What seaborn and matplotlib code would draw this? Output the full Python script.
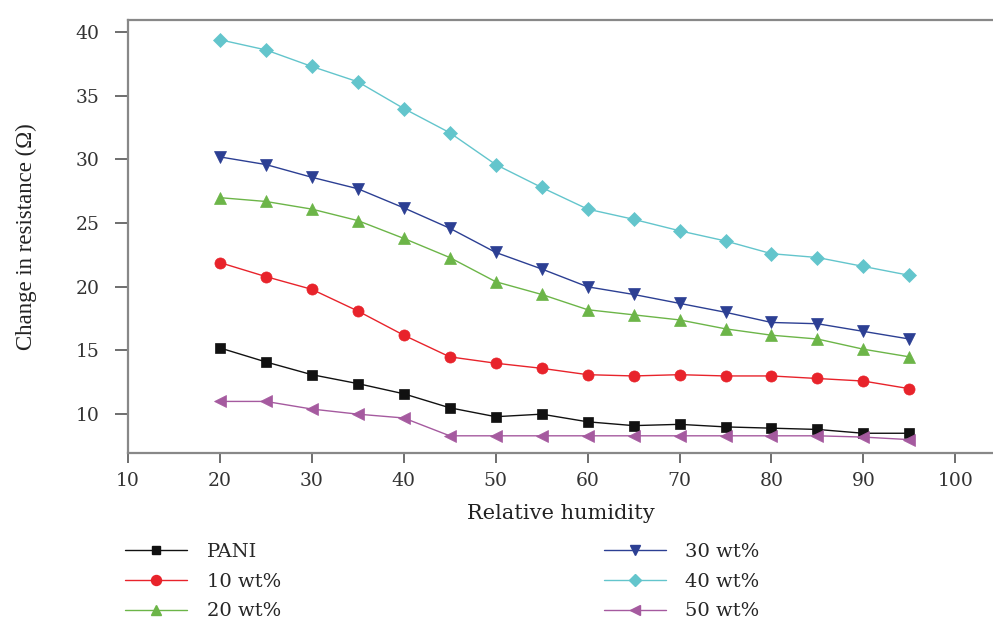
import numpy as np
import pandas as pd
import matplotlib
matplotlib.use("Agg")
import matplotlib.pyplot as plt
import seaborn as sns

humidity = [20, 25, 30, 35, 40, 45, 50, 55, 60, 65, 70, 75, 80, 85, 90, 95]
pani   = [15.2, 14.1, 13.1, 12.4, 11.6, 10.5, 9.8, 10.0, 9.4, 9.1, 9.2, 9.0, 8.9, 8.8, 8.5, 8.5]
wt10   = [21.9, 20.8, 19.8, 18.1, 16.2, 14.5, 14.0, 13.6, 13.1, 13.0, 13.1, 13.0, 13.0, 12.8, 12.6, 12.0]
wt20   = [27.0, 26.7, 26.1, 25.2, 23.8, 22.3, 20.4, 19.4, 18.2, 17.8, 17.4, 16.7, 16.2, 15.9, 15.1, 14.5]
wt30   = [30.2, 29.6, 28.6, 27.7, 26.2, 24.6, 22.7, 21.4, 20.0, 19.4, 18.7, 18.0, 17.2, 17.1, 16.5, 15.9]
wt40   = [39.4, 38.6, 37.3, 36.1, 34.0, 32.1, 29.6, 27.8, 26.1, 25.3, 24.4, 23.6, 22.6, 22.3, 21.6, 20.9]
wt50   = [11.0, 11.0, 10.4, 10.0, 9.7, 8.3, 8.3, 8.3, 8.3, 8.3, 8.3, 8.3, 8.3, 8.3, 8.2, 8.0]

series_names = ["PANI", "10 wt%", "20 wt%", "30 wt%", "40 wt%", "50 wt%"]
series_values = [pani, wt10, wt20, wt30, wt40, wt50]
colors = ["#111111", "#e8232b", "#6cb548", "#2c3f93", "#63c5cc", "#a55a9f"]
marker_list = ["s", "o", "^", "v", "D", "<"]
marker_sizes = [7, 8, 8.5, 8.5, 7, 8.5]
x_ticks = [10, 20, 30, 40, 50, 60, 70, 80, 90, 100]
y_ticks = [10, 15, 20, 25, 30, 35, 40]

df = pd.DataFrame({
    "Relative humidity": np.tile(humidity, len(series_names)),
    "Change": np.concatenate(series_values),
    "Sample": np.repeat(series_names, len(humidity)),
})

sns.set_style("white")
plt.rcParams["font.family"] = ["DejaVu Serif"]

fig = plt.figure(figsize=(9.93, 6.22), dpi=100)
ax = fig.add_axes([128/993, (622-453)/622, 1 - 128/993, (453-20)/622])

sns.lineplot(data=df, x="Relative humidity", y="Change", hue="Sample", style="Sample",
             hue_order=series_names, style_order=series_names,
             palette=dict(zip(series_names, colors)),
             markers=dict(zip(series_names, marker_list)), dashes=False,
             linewidth=1.0, legend=False, ax=ax)

lines = ax.get_lines()
for ln, c, ms in zip(lines, colors, marker_sizes):
    ln.set_markeredgecolor(c)
    ln.set_markerfacecolor(c)
    ln.set_markersize(ms)
    ln.set_markeredgewidth(0.5)

ax.set_xlim(10, 104.1)
ax.set_ylim(6.95, 40.95)
ax.set_xticks(x_ticks)
ax.set_yticks(y_ticks)
ax.tick_params(axis="both", direction="out", color="#555555", width=1.2, labelsize=13.5,
               labelcolor="#333333", bottom=True, left=True, top=False, right=False)
ax.tick_params(axis="x", length=7, pad=7)
ax.tick_params(axis="y", length=9.5, pad=11)
for side in ["left", "bottom", "top"]:
    ax.spines[side].set_color("#888888")
    ax.spines[side].set_linewidth(1.6)
ax.spines["right"].set_visible(False)

ax.set_xlabel("Relative humidity", fontsize=15, color="#222222", labelpad=10)
ax.set_ylabel("Change in resistance (Ω)", fontsize=16.5, color="#222222",
              family=["Liberation Serif", "DejaVu Serif"], labelpad=28)

handles = []
for c, m, ms in zip(colors, marker_list, marker_sizes):
    h, = ax.plot([], [], color=c, marker=m, markersize=ms * 0.9, linewidth=1.0,
                 markeredgecolor=c)
    handles.append(h)
fig.legend(handles, series_names, loc="upper left", bbox_to_anchor=(125/993, 1 - 543/622),
           ncol=2, frameon=False, fontsize=14, handlelength=3.2, handletextpad=1.0,
           columnspacing=16.6, labelspacing=0.6, borderpad=0, borderaxespad=0)

fig.savefig("out.png", dpi=100)
